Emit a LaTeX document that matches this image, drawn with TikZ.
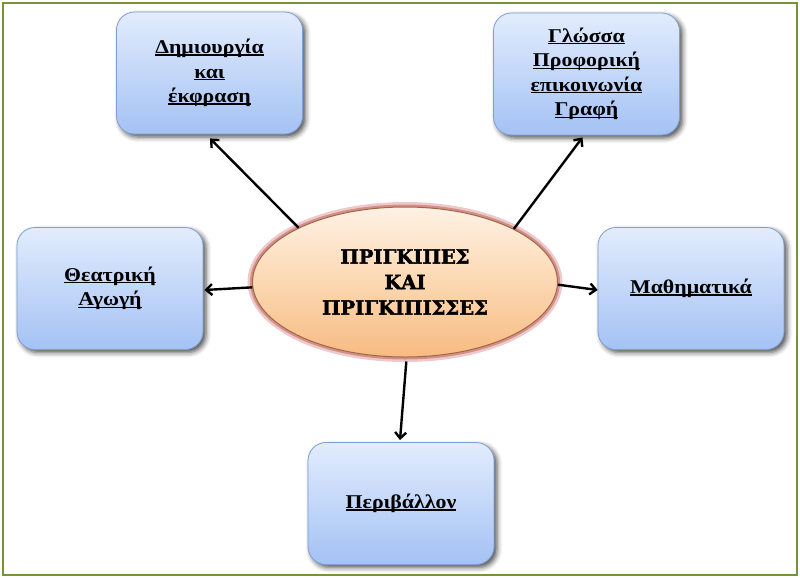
\documentclass[tikz,border=0pt]{standalone}
\usepackage{fontspec}
\setmainfont{Liberation Serif}
\newfontfamily\boxfont[FakeStretch=1.12]{Liberation Serif}
\newfontfamily\centerfont{DejaVu Serif Bold}[FakeBold=2]
\usetikzlibrary{arrows.meta,shapes.geometric,shadows.blur}
\definecolor{frameG}{HTML}{77933C}
\definecolor{boxTop}{HTML}{E2ECFD}
\definecolor{boxBot}{HTML}{A4C2F4}
\definecolor{boxLine}{HTML}{7F9FD3}
\definecolor{elTop}{HTML}{FEF1E4}
\definecolor{elMid}{HTML}{FCD8B2}
\definecolor{elBot}{HTML}{F7BB82}
\definecolor{elLine}{HTML}{9C6B45}
\definecolor{glow}{HTML}{C0504D}
\newlength\ulxwd
\newcommand{\ulx}[1]{\settowidth{\ulxwd}{#1}\rlap{\rule[-1.9pt]{\ulxwd}{1.3pt}}#1}
\begin{document}
\begin{tikzpicture}[x=1pt,y=-1pt,
  topic/.style={rectangle, rounded corners=18pt, minimum width=186pt, minimum height=122pt,
    inner sep=0pt, draw=boxLine, line width=0.8pt, top color=boxTop, bottom color=boxBot,
    align=center, font=\boxfont\fontsize{19.5}{24.5}\selectfont\bfseries,
    blur shadow={shadow xshift=3pt, shadow yshift=-3pt, shadow blur radius=5pt, shadow opacity=70}},
  hub/.style={ellipse, minimum width=305pt, minimum height=150pt, inner sep=0pt,
    draw=elLine, line width=1pt, top color=elTop, bottom color=elBot, middle color=elMid,
    preaction={draw=glow, line width=10pt, draw opacity=0.3},
    preaction={draw=glow, line width=5pt, draw opacity=0.5},
    align=center, font=\centerfont\fontsize{19.5}{25.5}\selectfont},
  link/.style={line width=2.4pt, -{Straight Barb[length=6pt,width=11pt,line width=2.4pt]}}
]
\useasboundingbox (0,0) rectangle (800,579);
\draw[frameG, line width=1.5pt] (3,3) rectangle (797,575);

\node[hub] (e) at (405,282) {ΠΡΙΓΚΙΠΕΣ\\ΚΑΙ\\ΠΡΙΓΚΙΠΙΣΣΕΣ};

\node[topic] (d) at (209.5,73) {\ulx{Δημιουργία}\\\ulx{και}\\\ulx{έκφραση}};
\node[topic] (g) at (586.5,74) {\ulx{Γλώσσα}\\\ulx{Προφορική}\\\ulx{επικοινωνία}\\\ulx{Γραφή}};
\node[topic] (t) at (110,288.5) {\ulx{Θεατρική}\\\ulx{Αγωγή}};
\node[topic] (m) at (691,288.5) {\ulx{Μαθηματικά}};
\node[topic] (p) at (401,503.5) {\ulx{Περιβάλλον}};

\draw[link] (e.153.6) -- ([shift={(0.5pt,-4pt)}]d.south);
\draw[link] (e.26.8) -- ([shift={(-4pt,-2pt)}]g.south);
\draw[link] (e.182) -- ([shift={(1pt,-1.5pt)}]t.east);
\draw[link] (e.359) -- ([shift={(0pt,-1.5pt)}]m.west);
\draw[link] ([shift={(0pt,-4pt)}]e.271) -- ([shift={(-1pt,2pt)}]p.north);
\end{tikzpicture}
\end{document}
